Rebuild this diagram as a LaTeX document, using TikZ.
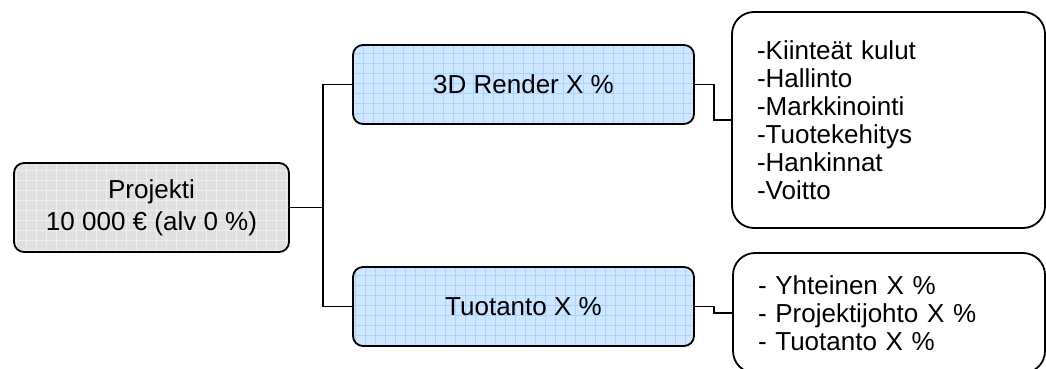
\documentclass[tikz,border=0pt]{standalone}
\usepackage{fontspec}
\setmainfont{Liberation Sans}
\definecolor{blueBase}{RGB}{206,230,255}
\definecolor{blueLine}{RGB}{172,211,250}
\definecolor{grayBase}{RGB}{224,224,224}
\definecolor{grayLine}{RGB}{238,238,238}
\tikzset{
  gridbox/.style 2 args={draw=black, line width=1.8, rounded corners=10, fill=#1,
    align=center, inner sep=0,
    font=\fontsize{26}{32}\selectfont,
    path picture={\draw[#2, line width=0.9]
      (path picture bounding box.south west) grid[step=10]
      (path picture bounding box.north east);}},
  rootbox/.style={gridbox={grayBase}{grayLine}},
  partbox/.style={gridbox={blueBase}{blueLine}, minimum width=341, minimum height=79},
  listbox/.style={draw=black, line width=1.8, rounded corners=22, fill=white,
    align=left, inner xsep=25, inner ysep=0, text width=263,
    font=\fontsize{26}{28}\selectfont},
  link/.style={draw=black, line width=1.8}
}
\begin{document}
\begin{tikzpicture}[x=1pt, y=1pt]
  \useasboundingbox (0,0) rectangle (1046,368);

  % root node and the two shares
  \node[rootbox, minimum width=275, minimum height=89] (proj) at (151.5,160.5)
    {Projekti\\10 000 € (alv 0 \%)};
  \node[partbox] (r3d) at (523.5,283.5) {3D Render X \%};
  \node[partbox] (tuo) at (523.5,61.5) {Tuotanto X \%};

  % breakdown lists
  \node[listbox, minimum height=216] (list1) at (888.5,248)
    {-Kiinteät kulut\\-Hallinto\\-Markkinointi\\-Tuotekehitys\\-Hankinnat\\-Voitto};
  \node[listbox, minimum height=120, text width=262] (list2) at (889,55)
    {- Yhteinen X \%\\- Projektijohto X \%\\- Tuotanto X \%};

  % tree connectors
  \draw[link] (proj.east) -- ++(33,0) coordinate (split);
  \draw[link] (r3d.west) -| (split);
  \draw[link] (tuo.west) -| (split);
  \draw[link] (r3d.east) -- ++(19,0) |- (list1.west);
  \draw[link] (tuo.east) -- ++(19,0) |- (list2.west);
\end{tikzpicture}
\end{document}
